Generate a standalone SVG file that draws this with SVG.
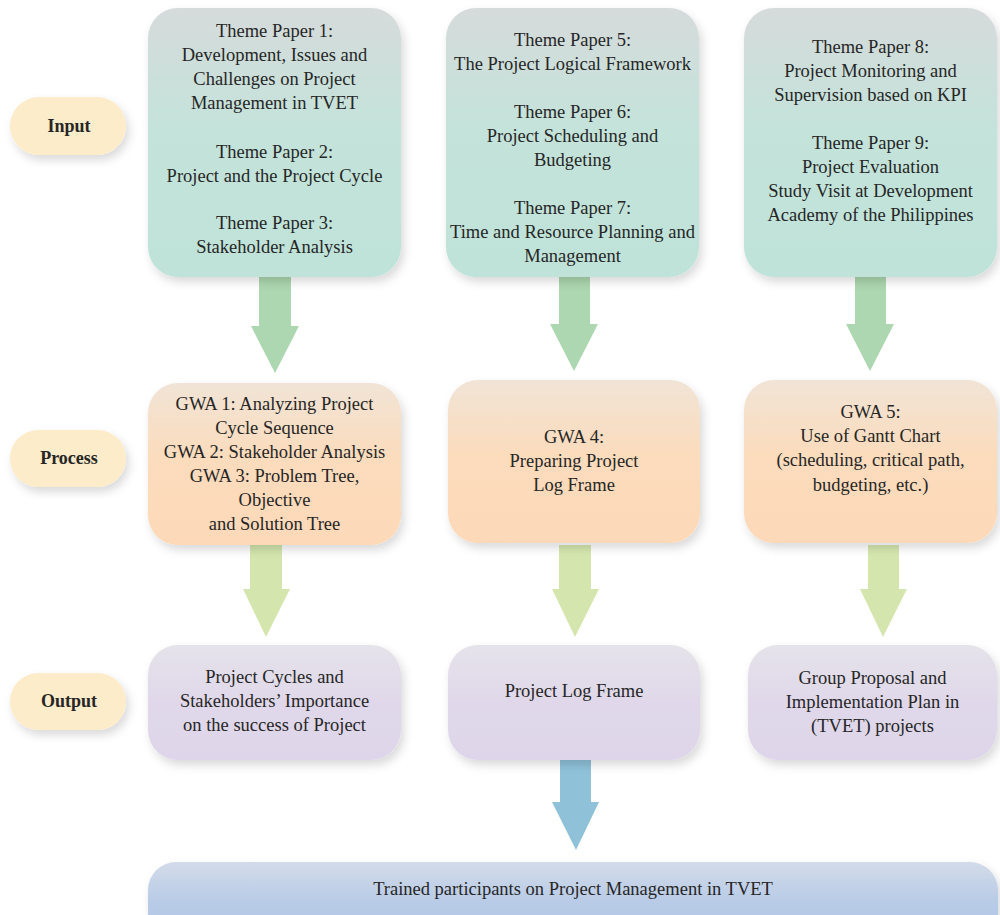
<svg xmlns="http://www.w3.org/2000/svg" width="1000" height="915" viewBox="0 0 1000 915">
<defs>
<linearGradient id="gIn" x1="0" y1="0" x2="0" y2="1"><stop offset="0" stop-color="#d6dbdb"/><stop offset="0.45" stop-color="#c4e3da"/><stop offset="1" stop-color="#bfe3d9"/></linearGradient>
<linearGradient id="gPr" x1="0" y1="0" x2="0" y2="1"><stop offset="0" stop-color="#f1e4d6"/><stop offset="0.45" stop-color="#fbdcbd"/><stop offset="1" stop-color="#fdd9b8"/></linearGradient>
<linearGradient id="gOut" x1="0" y1="0" x2="0" y2="1"><stop offset="0" stop-color="#e5e3ea"/><stop offset="0.5" stop-color="#e0d8ea"/><stop offset="1" stop-color="#ded5ea"/></linearGradient>
<linearGradient id="gBot" x1="0" y1="0" x2="0" y2="1"><stop offset="0" stop-color="#d3dbe9"/><stop offset="0.5" stop-color="#b8cbe7"/><stop offset="1" stop-color="#b1c6e6"/></linearGradient>
<filter id="sh" x="-10%" y="-10%" width="125%" height="130%"><feDropShadow dx="3" dy="5" stdDeviation="5" flood-color="#000" flood-opacity="0.15"/></filter>
</defs>
<style>
text{font-family:"Liberation Serif","Times New Roman",serif;font-size:18.5px;fill:#262626;text-anchor:middle}
.lbl{font-weight:bold;font-size:18px}
.lb{fill:#fdecc9}
.in{fill:url(#gIn)}
.pr{fill:url(#gPr)}
.out{fill:url(#gOut)}
.bot{fill:url(#gBot)}
.a1{fill:#acd7b0}
.a2{fill:#d4e6ae}
.a3{fill:#8fc2d9}
</style>
<rect width="1000" height="915" fill="#ffffff"/>

<g id="connectors">
<polygon class="a1" points="259,276 291,276 291,326 299,326 275,373 251,326 259,326"/>
<polygon class="a1" points="559,276 590,276 590,324 598,324 574,371 550,324 559,324"/>
<polygon class="a1" points="855,276 886,276 886,324 894,324 870,371 846,324 855,324"/>
<polygon class="a2" points="250,545 282,545 282,589 290,589 266,637 243,589 250,589"/>
<polygon class="a2" points="559,545 591,545 591,589 599,589 575,637 552,589 559,589"/>
<polygon class="a2" points="868,545 899,545 899,589 907,589 883,637 860,589 868,589"/>
<polygon class="a3" points="560,759 591,759 591,802 599,802 576,850 552,802 560,802"/>
</g>

<g id="label-input"><rect class="lb" x="10" y="97" width="116" height="58" rx="29" filter="url(#sh)"/><text class="lbl" x="69" y="132">Input</text></g>
<g id="label-process"><rect class="lb" x="10" y="430" width="116" height="57" rx="28.5" filter="url(#sh)"/><text class="lbl" x="69" y="464">Process</text></g>
<g id="label-output"><rect class="lb" x="10" y="673" width="116" height="57" rx="28.5" filter="url(#sh)"/><text class="lbl" x="69" y="707">Output</text></g>

<g id="input-1"><rect class="in" x="148" y="8" width="253" height="269" rx="30" filter="url(#sh)"/>
<text x="274.5" y="37">Theme Paper 1:</text>
<text x="274.5" y="61">Development, Issues and</text>
<text x="274.5" y="85">Challenges on Project</text>
<text x="274.5" y="109">Management in TVET</text>
<text x="274.5" y="158">Theme Paper 2:</text>
<text x="274.5" y="182">Project and the Project Cycle</text>
<text x="274.5" y="229">Theme Paper 3:</text>
<text x="274.5" y="253">Stakeholder Analysis</text>
</g>

<g id="input-2"><rect class="in" x="446" y="8" width="253" height="269" rx="30" filter="url(#sh)"/>
<text x="572.5" y="46">Theme Paper 5:</text>
<text x="572.5" y="70">The Project Logical Framework</text>
<text x="572.5" y="118">Theme Paper 6:</text>
<text x="572.5" y="142">Project Scheduling and</text>
<text x="572.5" y="166">Budgeting</text>
<text x="572.5" y="214">Theme Paper 7:</text>
<text x="572.5" y="238">Time and Resource Planning and</text>
<text x="572.5" y="262">Management</text>
</g>

<g id="input-3"><rect class="in" x="744" y="8" width="253" height="269" rx="30" filter="url(#sh)"/>
<text x="870.5" y="53">Theme Paper 8:</text>
<text x="870.5" y="77">Project Monitoring and</text>
<text x="870.5" y="101">Supervision based on KPI</text>
<text x="870.5" y="149">Theme Paper 9:</text>
<text x="870.5" y="173">Project Evaluation</text>
<text x="870.5" y="197">Study Visit at Development</text>
<text x="870.5" y="221">Academy of the Philippines</text>
</g>

<g id="process-1"><rect class="pr" x="148" y="383" width="253" height="162" rx="30" filter="url(#sh)"/>
<text x="274.5" y="410">GWA 1: Analyzing Project</text>
<text x="274.5" y="434">Cycle Sequence</text>
<text x="274.5" y="458">GWA 2: Stakeholder Analysis</text>
<text x="274.5" y="482">GWA 3: Problem Tree,</text>
<text x="274.5" y="506">Objective</text>
<text x="274.5" y="530">and Solution Tree</text>
</g>

<g id="process-2"><rect class="pr" x="448" y="380" width="252" height="163" rx="30" filter="url(#sh)"/>
<text x="574" y="443">GWA 4:</text>
<text x="574" y="467">Preparing Project</text>
<text x="574" y="491">Log Frame</text>
</g>

<g id="process-3"><rect class="pr" x="744" y="380" width="253" height="163" rx="30" filter="url(#sh)"/>
<text x="870.5" y="418">GWA 5:</text>
<text x="870.5" y="442">Use of Gantt Chart</text>
<text x="870.5" y="466">(scheduling, critical path,</text>
<text x="870.5" y="491">budgeting, etc.)</text>
</g>

<g id="output-1"><rect class="out" x="148" y="645" width="253" height="115" rx="30" filter="url(#sh)"/>
<text x="274.5" y="683">Project Cycles and</text>
<text x="274.5" y="707">Stakeholders’ Importance</text>
<text x="274.5" y="731">on the success of Project</text>
</g>

<g id="output-2"><rect class="out" x="448" y="645" width="252" height="115" rx="30" filter="url(#sh)"/>
<text x="574" y="697">Project Log Frame</text>
</g>

<g id="output-3"><rect class="out" x="748" y="645" width="249" height="115" rx="30" filter="url(#sh)"/>
<text x="872.5" y="684">Group Proposal and</text>
<text x="872.5" y="708">Implementation Plan in</text>
<text x="872.5" y="732">(TVET) projects</text>
</g>

<g id="result"><rect class="bot" x="148" y="862" width="850" height="80" rx="28" filter="url(#sh)"/>
<text x="573" y="895" style="font-size:18.5px">Trained participants on Project Management in TVET</text>
</g>
</svg>
